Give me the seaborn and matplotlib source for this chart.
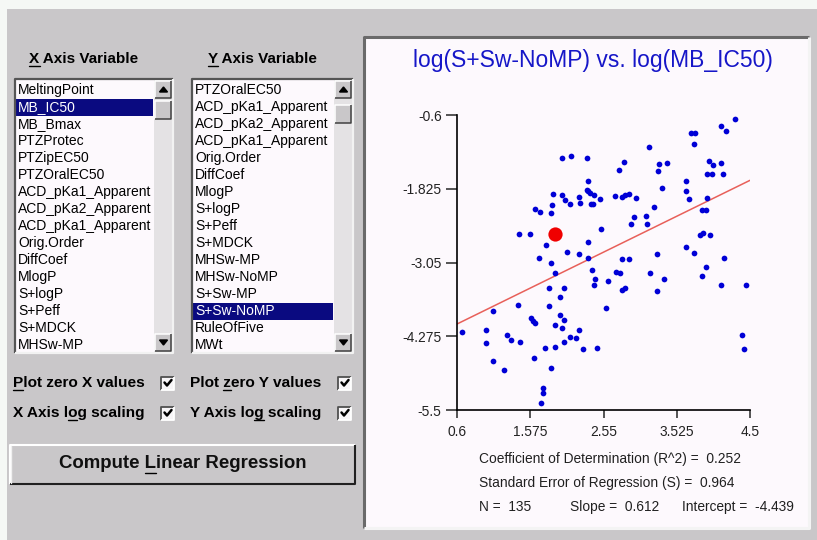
import matplotlib
matplotlib.use("Agg")
import matplotlib.pyplot as plt
import seaborn as sns
import pandas as pd
import numpy as np
from matplotlib.patches import Rectangle, Polygon

# data: log(MB_IC50) vs log(S+Sw-NoMP)
log_mb_ic50 = [4.30, 4.11, 4.18, 3.72, 3.77, 3.76, 3.15, 2.00, 2.12, 2.33,
               2.82, 2.75, 3.29, 3.40, 3.27, 3.95, 4.01, 4.11, 3.93, 4.00,
               4.14, 2.35, 3.65, 3.33, 1.88, 2.00, 2.04, 2.11, 2.22, 2.24,
               2.33, 2.35, 2.37, 2.42, 2.38, 2.41, 2.51, 2.70, 2.80, 2.84,
               2.89, 2.98, 3.22, 3.65, 3.69, 3.93, 3.86, 3.92, 1.64, 1.71,
               1.85, 1.87, 2.96, 2.92, 3.11, 3.13, 2.52, 1.43, 1.57, 3.84,
               3.88, 3.97, 1.79, 2.35, 3.65, 1.69, 1.85, 1.91, 2.07, 2.23,
               2.35, 2.40, 2.44, 2.42, 2.61, 2.72, 2.77, 2.79, 2.89, 2.80,
               2.84, 2.58, 3.17, 3.26, 3.36, 3.26, 3.76, 3.92, 3.86, 4.16,
               4.11, 4.45, 4.39, 4.42, 1.83, 2.03, 1.97, 1.83, 1.41, 1.08,
               0.66, 0.98, 0.99, 1.08, 1.22, 1.27, 1.32, 1.44, 1.59, 1.61,
               1.64, 1.62, 1.77, 1.85, 1.74, 1.74, 1.72, 1.90, 1.91, 1.97,
               2.00, 2.03, 2.03, 2.11, 2.18, 2.23, 2.28, 2.46]
log_s_sw_nomp = [-0.67, -0.79, -0.86, -0.90, -0.90, -1.08, -1.13, -1.32, -1.28, -1.32,
                 -1.38, -1.51, -1.42, -1.40, -1.53, -1.36, -1.43, -1.40, -1.58, -1.58,
                 -1.58, -1.69, -1.69, -1.82, -1.91, -1.93, -2.01, -2.08, -1.97, -2.06,
                 -1.84, -1.86, -1.89, -1.93, -2.08, -2.08, -2.00, -1.95, -1.97, -1.93,
                 -1.91, -1.98, -2.12, -1.87, -2.00, -1.98, -2.17, -2.17, -2.16, -2.21,
                 -2.23, -2.10, -2.30, -2.41, -2.27, -2.41, -2.49, -2.58, -2.58, -2.60,
                 -2.56, -2.60, -2.76, -2.71, -2.79, -2.97, -3.06, -3.23, -2.88, -2.91,
                 -2.98, -3.17, -3.32, -3.43, -3.35, -3.21, -3.23, -3.00, -3.00, -3.50,
                 -3.47, -3.80, -3.23, -2.91, -3.32, -3.52, -2.89, -3.13, -3.28, -2.98,
                 -3.43, -3.43, -4.25, -4.49, -3.47, -3.47, -3.63, -3.78, -3.75, -3.86,
                 -4.21, -4.17, -4.39, -4.69, -4.84, -4.25, -4.34, -4.37, -3.97, -4.02,
                 -4.06, -4.63, -4.47, -4.80, -5.14, -5.22, -5.38, -4.08, -4.45, -3.93,
                 -4.14, -4.01, -4.37, -4.28, -4.30, -4.17, -4.49, -4.47]
selected_x = [1.91]
selected_y = [-2.58]

x_ticks = [0.6, 1.575, 2.55, 3.525, 4.5]
y_ticks = [-5.5, -4.275, -3.05, -1.825, -0.6]

r_squared = 0.252
std_err = 0.964
n_points = 135
slope = 0.612
intercept = -4.439

x_list = ["MeltingPoint", "MB_IC50", "MB_Bmax", "PTZProtec", "PTZipEC50",
          "PTZOralEC50", "ACD_pKa1_Apparent", "ACD_pKa2_Apparent",
          "ACD_pKa1_Apparent", "Orig.Order", "DiffCoef", "MlogP", "S+logP",
          "S+Peff", "S+MDCK", "MHSw-MP"]
y_list = ["PTZOralEC50", "ACD_pKa1_Apparent", "ACD_pKa2_Apparent",
          "ACD_pKa1_Apparent", "Orig.Order", "DiffCoef", "MlogP", "S+logP",
          "S+Peff", "S+MDCK", "MHSw-MP", "MHSw-NoMP", "S+Sw-MP", "S+Sw-NoMP",
          "RuleOfFive", "MWt"]
x_selected = "MB_IC50"
y_selected = "S+Sw-NoMP"

# colours
GRAY = "#c9c7c9"
WHITE = "#fdf9fd"
NAVY = "#0a0a80"
BLUE = "#0000d6"

sns.set_style("white")
plt.rcParams["font.family"] = ["Liberation Sans", "DejaVu Sans"]

fig = plt.figure(figsize=(8.17, 5.40), dpi=100)
fig.patch.set_facecolor("#f5f8f5")

# background axes in pixel units (y down)
bg = fig.add_axes([0, 0, 1, 1])
bg.set_xlim(0, 817)
bg.set_ylim(540, 0)
bg.axis("off")
renderer = fig.canvas.get_renderer()


def rect(x0, y0, x1, y1, color, z=1, **kw):
    bg.add_patch(Rectangle((x0, y0), x1 - x0, y1 - y0, facecolor=color,
                           edgecolor="none", zorder=z, **kw))


def bevel(x0, y0, x1, y1, tl, br, lw=1.2, z=3):
    bg.plot([x0, x0, x1], [y1, y0, y0], color=tl, lw=lw, zorder=z,
            solid_capstyle="butt")
    bg.plot([x0, x1, x1], [y1, y1, y0], color=br, lw=lw, zorder=z,
            solid_capstyle="butt")


def text_u(x, y, s, idx, uoff=7.0, **kw):
    # text with one underlined letter, like a Windows accelerator key
    t = bg.text(x, y, s, va="center", zorder=5, **kw)
    full = t.get_window_extent(renderer)
    kw2 = {k: v for k, v in kw.items() if k != "ha"}
    tmp = bg.text(x, y, s[:idx + 1], va="center", ha="left", **kw2)
    w1 = tmp.get_window_extent(renderer).width
    tmp.remove()
    tmp = bg.text(x, y, s[idx], va="center", ha="left", **kw2)
    wc = tmp.get_window_extent(renderer).width
    tmp.remove()
    ux1 = full.x0 + w1
    bg.plot([ux1 - wc, ux1], [y + uoff, y + uoff], color="black", lw=1, zorder=5)


# dialog face
rect(7, 9, 817, 540, GRAY, z=0)

# ---- left side: two list boxes
bold = dict(fontsize=11, fontweight="bold", color="black")
text_u(84, 59, "X Axis Variable", 0, ha="center", **bold)
text_u(262, 59, "Y Axis Variable", 0, ha="center", **bold)


def listbox(x0, x1, items, sel, thumb):
    y0, y1 = 79, 353
    rect(x0, y0, x1, y1, WHITE)
    bevel(x0, y0, x1, y1, "#555555", "#f2f2f2", lw=1.6)
    sb = x1 - 19
    rect(sb, y0 + 1, x1 - 1, y1 - 1, "#e4e2e4", z=2)
    for i, name in enumerate(items):
        yc = 90 + 17 * i
        col = "black"
        if name == sel and i == items.index(sel):
            rect(x0 + 1.5, yc - 8.5, sb - 1, yc + 8.5, NAVY, z=2)
            col = "white"
        bg.text(x0 + 3, yc, name, fontsize=10, color=col, va="center",
                ha="left", zorder=4)
    # scrollbar buttons
    for (a, b) in [(y0 + 2, y0 + 19), (thumb, thumb + 18), (y1 - 19, y1 - 2)]:
        rect(sb + 1, a, x1 - 2, b, GRAY, z=3)
        bevel(sb + 1, a, x1 - 2, b, "#ffffff", "#404040", lw=1.1, z=4)
    cx = (sb + x1) / 2
    bg.add_patch(Polygon([[cx - 4, y0 + 13], [cx + 4, y0 + 13], [cx, y0 + 8]],
                         color="black", zorder=5))
    bg.add_patch(Polygon([[cx - 4, y1 - 13], [cx + 4, y1 - 13], [cx, y1 - 8]],
                         color="black", zorder=5))


listbox(15, 173, x_list, x_selected, 101)
listbox(192, 353, y_list, y_selected, 105)


# ---- check boxes
def checkbox(cx, cy):
    rect(cx - 6.5, cy - 6.5, cx + 6.5, cy + 6.5, "#f8f6f8", z=3)
    bevel(cx - 6.5, cy - 6.5, cx + 6.5, cy + 6.5, "#505050", "#ffffff", lw=1.3, z=4)
    bg.plot([cx - 3.5, cx - 1, cx + 3.5], [cy - 0.5, cy + 2.5, cy - 3],
            color="black", lw=1.8, zorder=5)


cb = dict(fontsize=11.1, fontweight="bold", color="black", ha="left")
text_u(13, 383, "Plot zero X values", 0, **cb)
text_u(190, 383, "Plot zero Y values", 5, **cb)
text_u(13, 413, "X Axis log scaling", 8, **cb)
text_u(190, 413, "Y Axis log scaling", 9, **cb)
for cx in (168, 345):
    for cy in (383, 413):
        checkbox(cx, cy)

# ---- button
rect(10, 445, 355, 484, GRAY, z=2)
bevel(10, 445, 355, 484, "#ffffff", "#202020", lw=1.5)
bg.plot([11.5, 11.5], [446, 482.5], color="#f0f0f0", lw=1, zorder=3)
text_u(183, 464, "Compute Linear Regression", 8, uoff=8.5, ha="center",
       fontsize=13.4, fontweight="bold", color="#101010")

# ---- plot panel
rect(364, 37, 809, 528, WHITE)
bevel(364, 37, 809, 528, "#6a6a6a", "#f4f4f4", lw=2.2)
bg.text(593, 61, "log(S+Sw-NoMP) vs. log(MB_IC50)", fontsize=16.5,
        color="#1616c8", ha="center", va="center", zorder=5)

stats = dict(fontsize=9.9, color="#202020", ha="left", va="center", zorder=5)
bg.text(479, 459, f"Coefficient of Determination (R^2) =  {r_squared:.3f}", **stats)
bg.text(479, 483, f"Standard Error of Regression (S) =  {std_err:.3f}", **stats)
bg.text(479, 507, f"N =  {n_points}", **stats)
bg.text(570, 507, f"Slope =  {slope:.3f}", **stats)
bg.text(682, 507, f"Intercept =  {intercept:.3f}", **stats)

# ---- scatter axes
ax = fig.add_axes([457 / 817, (540 - 410) / 540, 293 / 817, 295 / 540])
ax.patch.set_alpha(0)

df = pd.DataFrame({"x": log_mb_ic50, "y": log_s_sw_nomp})
fit_x = np.array([x_ticks[0], x_ticks[-1]])
fit = pd.DataFrame({"x": fit_x, "y": intercept + slope * fit_x})

sns.lineplot(data=fit, x="x", y="y", ax=ax, color="#e8605a", lw=1.1, zorder=2)
sns.scatterplot(data=df, x="x", y="y", ax=ax, color=BLUE, s=17, linewidth=0,
                zorder=3, clip_on=False)
sns.scatterplot(x=selected_x, y=selected_y, ax=ax, color="#f00000", s=105,
                linewidth=0, zorder=4)

ax.set_xlim(x_ticks[0], x_ticks[-1])
ax.set_ylim(y_ticks[0], y_ticks[-1])
ax.set_xticks(x_ticks)
ax.set_yticks(y_ticks)
ax.set_xticklabels([f"{v:g}" for v in x_ticks])
ax.set_yticklabels([f"{v:g}" for v in y_ticks])
ax.set_xlabel("")
ax.set_ylabel("")
sns.despine(ax=ax)
for side in ("left", "bottom"):
    ax.spines[side].set_color("black")
    ax.spines[side].set_linewidth(1.2)
ax.tick_params(axis="y", direction="out", length=8, width=1.1, pad=3,
               labelsize=9.9, labelcolor="#222222", left=True)
ax.tick_params(axis="x", direction="out", length=6, width=1.1, pad=5,
               labelsize=9.9, labelcolor="#222222", bottom=True)

fig.savefig("out.png", dpi=100, facecolor=fig.get_facecolor())
